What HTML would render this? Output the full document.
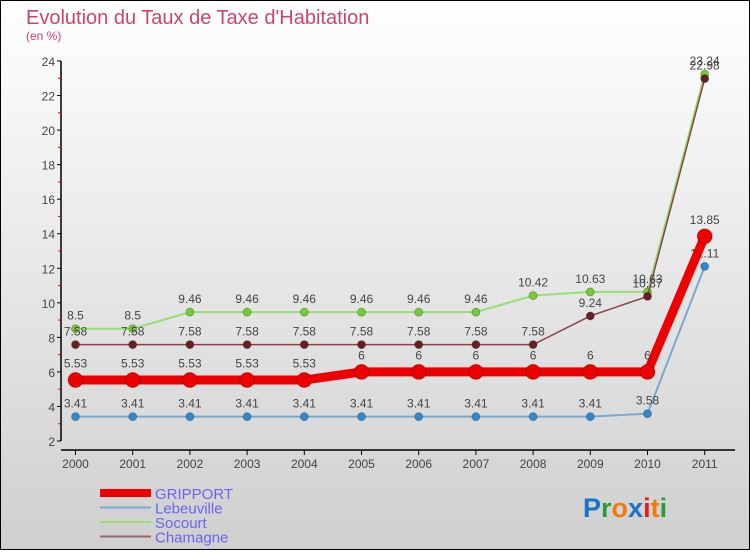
<!DOCTYPE html>
<html><head><meta charset="utf-8"><style>
html,body{margin:0;padding:0}
body{width:750px;height:550px;overflow:hidden;font-family:"Liberation Sans",sans-serif}
</style></head><body>
<svg id="chart" width="750" height="550" xmlns="http://www.w3.org/2000/svg">
<defs><linearGradient id="bg" x1="0" y1="0" x2="0" y2="1"><stop offset="0" stop-color="#ffffff"/><stop offset="1" stop-color="#cfcfcf"/></linearGradient></defs>
<rect x="0.5" y="0.5" width="749" height="549" fill="url(#bg)" stroke="#000"/>
<text x="26" y="24" font-size="20" fill="#c8305a" fill-opacity="0.9">Evolution du Taux de Taxe d'Habitation</text>
<text x="26" y="40" font-size="12" fill="#d04070">(en %)</text>
<g id="axes"></g>
<g id="series"></g>
<g id="legend"></g>
<text x="583" y="517" font-size="27" font-weight="bold"><tspan fill="#1a73c8">P</tspan><tspan fill="#2a9a3a">r</tspan><tspan fill="#f07a10">o</tspan><tspan fill="#1a73c8">x</tspan><tspan fill="#e02010">i</tspan><tspan fill="#f07a10">t</tspan><tspan fill="#2a9a3a">i</tspan></text>
</svg>
<script>
const years=["2000","2001","2002","2003","2004","2005","2006","2007","2008","2009","2010","2011"];
const gripport=[5.53,5.53,5.53,5.53,5.53,6,6,6,6,6,6,13.85];
const lebeuville=[3.41,3.41,3.41,3.41,3.41,3.41,3.41,3.41,3.41,3.41,3.58,12.11];
const socourt=[8.5,8.5,9.46,9.46,9.46,9.46,9.46,9.46,10.42,10.63,10.63,23.24];
const chamagne=[7.58,7.58,7.58,7.58,7.58,7.58,7.58,7.58,7.58,9.24,10.37,22.98];
const yTicks=[2,4,6,8,10,12,14,16,18,20,22,24];
const NS="http://www.w3.org/2000/svg";
const X=i=>75.5+i*57.2;
const Y=v=>441-(v-2)*(380/22);
function mk(tag,attrs,parent){const e=document.createElementNS(NS,tag);for(const k in attrs)e.setAttribute(k,attrs[k]);parent.appendChild(e);return e;}
const axes=document.getElementById('axes');
let yl=mk('line',{x1:61,y1:Y(24),x2:61,y2:Y(2),stroke:'#000','stroke-width':1.5},axes);


let xl=mk('line',{x1:61,y1:450,x2:735,y2:450,stroke:'#000','stroke-width':1.5},axes);


yTicks.forEach(v=>{
  mk('line',{x1:57,y1:Y(v),x2:61,y2:Y(v),stroke:'#000'},axes);
  if(v<24) mk('line',{x1:58,y1:Y(v+1),x2:61,y2:Y(v+1),stroke:'#e00'},axes);
  const t=mk('text',{x:55,y:Y(v)+5,'text-anchor':'end','font-size':12,fill:'#444'},axes);
  
  
  t.textContent=v;
});
years.forEach((y,i)=>{
  mk('line',{x1:X(i),y1:450,x2:X(i),y2:455,stroke:'#000'},axes);
  const t=mk('text',{x:X(i),y:468,'text-anchor':'middle','font-size':12,fill:'#444'},axes);
  
  
  t.textContent=y;
});
const sg=document.getElementById('series');
const series=[
 {name:'socourt',d:socourt,c:'#99dd77',dot:'#77cc33',w:2,r:4},
 {name:'chamagne',d:chamagne,c:'#884444',dot:'#662222',w:1.5,r:4},
 {name:'lebeuville',d:lebeuville,c:'#77aad0',dot:'#3388cc',w:2,r:4},
 {name:'gripport',d:gripport,c:'#ee0000',dot:'#ee0000',w:9,r:7.5}
];
series.forEach(s=>{
  const g=mk('g',{},sg);
  
  
  const p=mk('polyline',{points:s.d.map((v,i)=>X(i)+','+Y(v)).join(' '),fill:'none',stroke:s.c,'stroke-width':s.w},g);
  
  
  s.d.forEach((v,i)=>{
    const c=mk('circle',{cx:X(i),cy:Y(v),r:s.r,fill:s.dot,stroke:'rgba(0,0,0,0.25)'},g);
    
    
    const t=mk('text',{x:X(i),y:Y(v)-(s.r+5),'text-anchor':'middle','font-size':12,fill:'#444'},g);
    
    
    t.textContent=v;
  });
});
const lg=document.getElementById('legend');
const leg=[['GRIPPORT','#ee0000',8],['Lebeuville','#77aad0',2],['Socourt','#99dd77',2],['Chamagne','#996666',2]];
leg.forEach((l,i)=>{
  const y=493+i*14.5;
  const g=mk('g',{},lg);
  
  
  mk('line',{x1:100,y1:y,x2:151,y2:y,stroke:l[1],'stroke-width':l[2]},g);
  const t=mk('text',{x:155,y:y+6,'font-size':15,fill:'#6666ee'},g);
  t.textContent=l[0];
});
</script>
</body></html>
